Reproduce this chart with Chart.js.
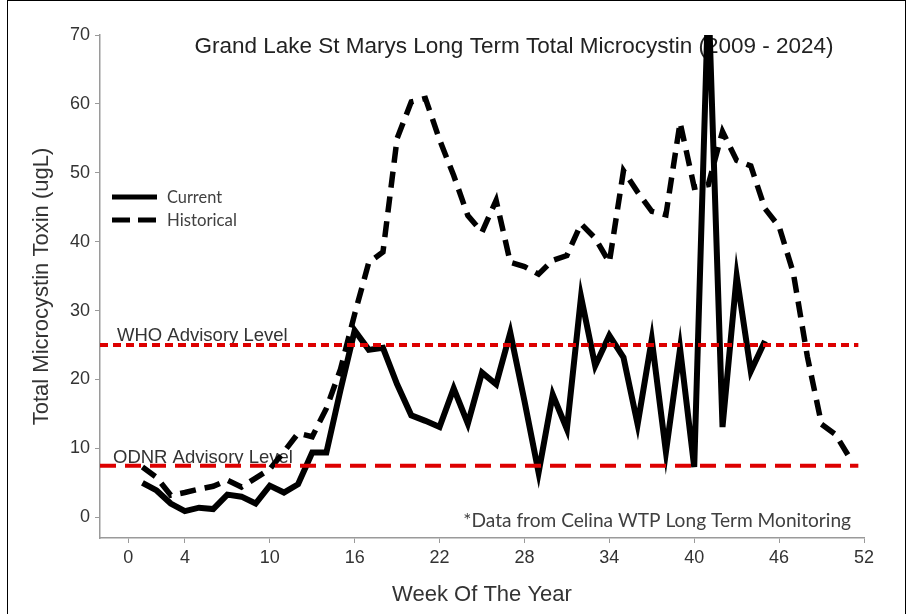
<!DOCTYPE html>
<html>
<head>
<meta charset="utf-8">
<script src="https://cdn.jsdelivr.net/npm/chart.js@4.4.1/dist/chart.umd.min.js"></script>
<style>
  html, body { margin: 0; padding: 0; background: #fff; }
  #wrap { position: relative; width: 910px; height: 614px; overflow: hidden; }
  #frame { position: absolute; left: 7px; top: 0; width: 897px; height: 640px; border: 1.5px solid #000; pointer-events: none; }
</style>
</head>
<body>
<div id="wrap">
  <canvas id="chart" width="910" height="614"></canvas>
  <div id="frame"></div>
</div>
<script>
// week numbers (x) and toxin values (ugL)
const weeks = [1, 2, 3, 4, 5, 6, 7, 8, 9, 10, 11, 12, 13, 14, 15, 16, 17, 18, 19, 20, 21, 22, 23, 24, 25, 26,
               27, 28, 29, 30, 31, 32, 33, 34, 35, 36, 37, 38, 39, 40, 41, 42, 43, 44, 45, 46, 47, 48, 49, 50, 51];

const current = [5.0, 3.9, 2.0, 0.9, 1.4, 1.2, 3.3, 3.0, 2.0, 4.6, 3.6, 4.8, 9.4, 9.4, 18.5, 27.1, 24.3, 24.6,
                 19.3, 14.8, 14.0, 13.1, 18.7, 13.6, 21.0, 19.3, 26.8, 16.9, 6.5, 17.8, 12.8, 32.0, 22.0, 26.4,
                 23.2, 13.5, 25.8, 9.5, 24.5, 7.3, 76, 13.1, 35.0, 21.2, 25.6];

const historical = [7.3, 5.8, 3.2, 3.6, 4.1, 4.5, 5.4, 4.4, 5.7, 7.0, 9.5, 12.2, 11.7, 15.8, 21.5, 29.5, 37.0, 38.5,
                    55.0, 60.3, 60.8, 54.8, 49.6, 43.8, 41.4, 46.0, 37.0, 36.4, 35.3, 37.3, 38.0, 42.6, 40.5, 37.0,
                    50.3, 47.2, 44.4, 43.9, 57.3, 47.9, 48.3, 56.0, 51.8, 51.0, 44.8, 42.2, 35.5, 23.3, 13.5, 12.0,
                    8.6];

const whoLevel = 25;
const odnrLevel = 7.5;
const levelSpan = [-2, 51.6];

const xTicks = [0, 4, 10, 16, 22, 28, 34, 40, 46, 52];
const yTicks = [0, 10, 20, 30, 40, 50, 60, 70];

const RED = '#dd0000';
const TEXT = '#333333';
const AXIS = '#9a9a9a';

function fitFont(ctx, text, family, width) {
  ctx.font = '100px ' + family;
  const size = 100 * width / ctx.measureText(text).width;
  return size.toFixed(2) + 'px ' + family;
}

const textLayer = {
  id: 'textLayer',
  beforeDatasetsDraw(chart) {
    const { ctx, chartArea: a } = chart;
    ctx.save();
    ctx.fillStyle = '#222';
    ctx.textBaseline = 'middle';
    ctx.textAlign = 'center';
    ctx.font = '22.5px "Liberation Sans", Arial, sans-serif';
    ctx.fillText('Grand Lake St Marys Long Term Total Microcystin (2009 - 2024)', 514, 47);

    ctx.textAlign = 'left';
    ctx.textBaseline = 'alphabetic';
    ctx.fillStyle = TEXT;
    ctx.font = '18.5px "Liberation Sans", Arial, sans-serif';
    ctx.fillText('WHO Advisory Level', a.left + 17, 341);
    ctx.fillText('ODNR Advisory Level', a.left + 13, 463);

    const note = '*Data from Celina WTP Long Term Monitoring';
    ctx.font = fitFont(ctx, note, 'Lato', 388);
    ctx.fillStyle = '#404040';
    ctx.textAlign = 'right';
    ctx.textBaseline = 'middle';
    ctx.fillText(note, 851, 521);
    ctx.restore();
  },
  afterDraw(chart) {
    const { ctx } = chart;
    const items = chart.data.datasets.filter(d => d.inLegend);
    ctx.save();
    items.forEach((d, i) => {
      const y = 197 + i * 23;
      ctx.beginPath();
      ctx.strokeStyle = d.borderColor;
      ctx.lineWidth = 5;
      ctx.setLineDash(d.legendDash || []);
      ctx.moveTo(112, y);
      ctx.lineTo(157, y);
      ctx.stroke();
      ctx.setLineDash([]);
      ctx.fillStyle = '#404040';
      ctx.font = fitFont(ctx, d.label, 'Lato', d.label === 'Current' ? 55 : 70);
      ctx.textBaseline = 'middle';
      ctx.fillText(d.label, 167, y + 1);
    });
    ctx.restore();
  }
};

new Chart(document.getElementById('chart'), {
  type: 'line',
  data: {
    datasets: [
      {
        label: 'WHO Advisory Level',
        data: levelSpan.map(x => ({ x, y: whoLevel })),
        borderColor: RED, borderWidth: 4, borderDash: [8, 5], pointRadius: 0
      },
      {
        label: 'ODNR Advisory Level',
        data: levelSpan.map(x => ({ x, y: odnrLevel })),
        borderColor: RED, borderWidth: 4, borderDash: [16, 9], pointRadius: 0
      },
      {
        label: 'Current', inLegend: true,
        data: current.map((v, i) => ({ x: weeks[i], y: v })),
        borderColor: '#000', borderWidth: 6, borderJoinStyle: 'miter', pointRadius: 0, tension: 0
      },
      {
        label: 'Historical', inLegend: true, legendDash: [18, 8],
        data: historical.map((v, i) => ({ x: weeks[i], y: v })),
        borderColor: '#000', borderWidth: 5.5, borderDash: [16, 9], borderJoinStyle: 'miter', pointRadius: 0, tension: 0
      }
    ]
  },
  options: {
    responsive: false,
    animation: false,
    events: [],
    layout: { padding: { top: 35, right: 46, left: 0, bottom: 0 } },
    plugins: { legend: { display: false }, tooltip: { enabled: false } },
    scales: {
      x: {
        type: 'linear', min: -2, max: 52,
        afterBuildTicks: s => { s.ticks = xTicks.map(v => ({ value: v })); },
        afterFit: s => { s.height = 76; },
        grid: { drawOnChartArea: false, drawTicks: true, tickLength: 5, color: AXIS },
        border: { color: AXIS, width: 1.5 },
        ticks: { color: TEXT, font: { family: '"Liberation Sans", Arial', size: 18 }, padding: 4, maxRotation: 0, autoSkip: false },
        title: { display: true, text: 'Week Of The Year', color: TEXT,
                 font: { family: '"Liberation Sans", Arial', size: 22 }, padding: { bottom: 6 } }
      },
      y: {
        type: 'linear', min: -3, max: 70,
        afterBuildTicks: s => { s.ticks = yTicks.map(v => ({ value: v })); },
        afterFit: s => { s.width = 100; },
        grid: { drawOnChartArea: false, drawTicks: true, tickLength: 5, color: AXIS },
        border: { color: AXIS, width: 1.5 },
        ticks: { color: TEXT, font: { family: '"Liberation Sans", Arial', size: 18 }, padding: 5 },
        title: { display: true, text: 'Total Microcystin Toxin (ugL)', color: TEXT,
                 font: { family: '"Liberation Sans", Arial', size: 22 }, padding: { top: 29 } }
      }
    }
  },
  plugins: [textLayer]
});
</script>
</body>
</html>
